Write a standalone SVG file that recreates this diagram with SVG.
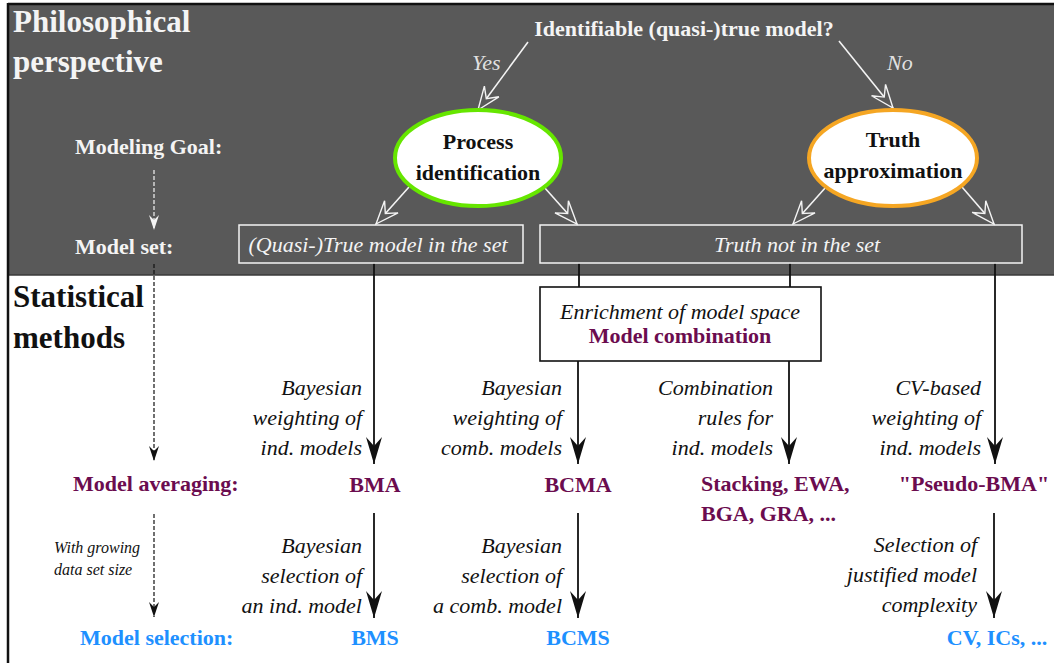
<svg xmlns="http://www.w3.org/2000/svg" width="1054" height="663" viewBox="0 0 1054 663">
<style>
text{font-size:22px}
.b{font-weight:bold}
.i{font-style:italic}
.w{fill:#f4f4f4}
.k{fill:#111}
.p{fill:#6b0c4f}
.bl{fill:#1e90ff}
.m{text-anchor:middle}
.e{text-anchor:end}
.h{font-size:31px}
.s{font-size:16px}
.wl{stroke:#f4f4f4;stroke-width:1.6;fill:none}
.kl{stroke:#111;stroke-width:1.8;fill:none}
.dw{stroke:#f4f4f4;stroke-width:1.2;stroke-dasharray:4 2;fill:none}
.dk{stroke:#111;stroke-width:1.2;stroke-dasharray:4 2;fill:none}
</style>
<defs>
<marker id="ak" markerUnits="userSpaceOnUse" markerWidth="28" markerHeight="18" viewBox="-27 -9 28 18" refX="0" refY="0" orient="auto" overflow="visible">
<path d="M0,0 L-27,-8 L-18,0 L-27,8 Z" fill="#111"/>
</marker>
<marker id="aw" markerUnits="userSpaceOnUse" markerWidth="26" markerHeight="20" viewBox="-24 -10 26 20" refX="0" refY="0" orient="auto" overflow="visible">
<path d="M0,0 L-23,-9 L-14,0 L-23,9 Z" fill="#595959" stroke="#f4f4f4" stroke-width="1.4" stroke-linejoin="miter"/>
</marker>
<marker id="dwa" markerUnits="userSpaceOnUse" markerWidth="16" markerHeight="12" viewBox="-15 -6 16 12" refX="0" refY="0" orient="auto" overflow="visible">
<path d="M0,0 L-15,-5 L-10,0 L-15,5 Z" fill="#f4f4f4"/>
</marker>
<marker id="dka" markerUnits="userSpaceOnUse" markerWidth="16" markerHeight="12" viewBox="-15 -6 16 12" refX="0" refY="0" orient="auto" overflow="visible">
<path d="M0,0 L-15,-5 L-10,0 L-15,5 Z" fill="#111"/>
</marker>
</defs>

<g id="background">
<rect x="0" y="0" width="1054" height="663" fill="#ffffff"/>
<rect x="9" y="5" width="1045" height="270" fill="#595959"/>
<line x1="9" y1="275" x2="1054" y2="275" stroke="#3a3a3a" stroke-width="1.5"/>
<line x1="8" y1="4" x2="1054" y2="4" stroke="#111" stroke-width="2.5"/>
<line x1="8" y1="3" x2="8" y2="663" stroke="#111" stroke-width="2.5"/>
</g>

<g id="connectors">
<line class="wl" x1="528" y1="42" x2="478" y2="110" marker-end="url(#aw)"/>
<line class="wl" x1="839" y1="41" x2="893" y2="108" marker-end="url(#aw)"/>
<line class="wl" x1="409" y1="187" x2="376" y2="224" marker-end="url(#aw)"/>
<line class="wl" x1="544" y1="187" x2="577" y2="224" marker-end="url(#aw)"/>
<line class="wl" x1="826" y1="187" x2="793" y2="224" marker-end="url(#aw)"/>
<line class="wl" x1="962" y1="187" x2="994" y2="224" marker-end="url(#aw)"/>
<line class="dw" x1="154" y1="170" x2="154" y2="230" marker-end="url(#dwa)"/>
<line class="dk" x1="154" y1="264" x2="154" y2="461" marker-end="url(#dka)"/>
<line class="dk" x1="154" y1="514" x2="154" y2="617" marker-end="url(#dka)"/>
<line class="kl" x1="579" y1="263" x2="579" y2="287"/>
<line class="kl" x1="790" y1="263" x2="790" y2="287"/>
<line class="kl" x1="374" y1="263" x2="374" y2="464" marker-end="url(#ak)"/>
<line class="kl" x1="578" y1="361" x2="578" y2="464" marker-end="url(#ak)"/>
<line class="kl" x1="789" y1="361" x2="789" y2="464" marker-end="url(#ak)"/>
<line class="kl" x1="995" y1="263" x2="995" y2="464" marker-end="url(#ak)"/>
<line class="kl" x1="374" y1="513" x2="374" y2="618" marker-end="url(#ak)"/>
<line class="kl" x1="578" y1="513" x2="578" y2="618" marker-end="url(#ak)"/>
<line class="kl" x1="994" y1="513" x2="994" y2="618" marker-end="url(#ak)"/>
</g>

<g id="title-philosophical">
<text font-family="Liberation Serif" class="b w h" x="13" y="32">Philosophical</text>
<text font-family="Liberation Serif" class="b w h" x="13" y="72">perspective</text>
</g>
<g id="title-statistical">
<text font-family="Liberation Serif" class="b k h" x="13" y="307">Statistical</text>
<text font-family="Liberation Serif" class="b k h" x="13" y="348">methods</text>
</g>

<g id="question">
<text font-family="Liberation Serif" class="b w m" x="684" y="36">Identifiable (quasi-)true model?</text>
</g>
<g id="label-yes"><text font-family="Liberation Serif" class="i w" x="472" y="70" fill-opacity="0.9">Yes</text></g>
<g id="label-no"><text font-family="Liberation Serif" class="i w" x="887" y="70" fill-opacity="0.9">No</text></g>

<g id="label-modeling-goal"><text font-family="Liberation Serif" class="b w" x="75" y="154">Modeling Goal:</text></g>
<g id="label-model-set"><text font-family="Liberation Serif" class="b w" x="75" y="254">Model set:</text></g>

<g id="node-process">
<ellipse cx="478" cy="158" rx="83" ry="48" fill="#ffffff" stroke="#66e600" stroke-width="4"/>
<text font-family="Liberation Serif" class="b k m" x="478" y="149">Process</text>
<text font-family="Liberation Serif" class="b k m" x="478" y="180">identification</text>
</g>
<g id="node-truth">
<ellipse cx="893" cy="158" rx="84" ry="48" fill="#ffffff" stroke="#f5a623" stroke-width="4"/>
<text font-family="Liberation Serif" class="b k m" x="893" y="147">Truth</text>
<text font-family="Liberation Serif" class="b k m" x="893" y="178">approximation</text>
</g>

<g id="box-true-model">
<rect x="239" y="225" width="284" height="38" fill="none" stroke="#f4f4f4" stroke-width="1.5"/>
<text font-family="Liberation Serif" class="i w m" x="378" y="252">(Quasi-)True model in the set</text>
</g>
<g id="box-truth-not">
<rect x="540" y="225" width="482" height="38" fill="none" stroke="#f4f4f4" stroke-width="1.5"/>
<text font-family="Liberation Serif" class="i w m" x="797" y="252">Truth not in the set</text>
</g>

<g id="box-enrichment">
<rect x="540" y="287" width="281" height="74" fill="#ffffff" stroke="#111" stroke-width="1.6"/>
<text font-family="Liberation Serif" class="i k m" x="680" y="319">Enrichment of model space</text>
<text font-family="Liberation Serif" class="b p m" x="680" y="343">Model combination</text>
</g>

<g id="label-model-averaging"><text font-family="Liberation Serif" class="b p" x="73" y="491">Model averaging:</text></g>
<g id="label-growing">
<text font-family="Liberation Serif" class="i k s" x="54" y="553">With growing</text>
<text font-family="Liberation Serif" class="i k s" x="54" y="575">data set size</text>
</g>
<g id="label-model-selection"><text font-family="Liberation Serif" class="b bl" x="80" y="645">Model selection:</text></g>

<g id="desc-bma">
<text font-family="Liberation Serif" class="i k e" x="362" y="395">Bayesian</text>
<text font-family="Liberation Serif" class="i k e" x="362" y="425">weighting of</text>
<text font-family="Liberation Serif" class="i k e" x="362" y="455">ind. models</text>
</g>
<g id="node-bma"><text font-family="Liberation Serif" class="b p m" x="375" y="492">BMA</text></g>
<g id="desc-bms">
<text font-family="Liberation Serif" class="i k e" x="362" y="553">Bayesian</text>
<text font-family="Liberation Serif" class="i k e" x="362" y="583">selection of</text>
<text font-family="Liberation Serif" class="i k e" x="362" y="613">an ind. model</text>
</g>
<g id="node-bms"><text font-family="Liberation Serif" class="b bl m" x="375" y="645">BMS</text></g>

<g id="desc-bcma">
<text font-family="Liberation Serif" class="i k e" x="562" y="395">Bayesian</text>
<text font-family="Liberation Serif" class="i k e" x="562" y="425">weighting of</text>
<text font-family="Liberation Serif" class="i k e" x="562" y="455">comb. models</text>
</g>
<g id="node-bcma"><text font-family="Liberation Serif" class="b p m" x="578" y="492">BCMA</text></g>
<g id="desc-bcms">
<text font-family="Liberation Serif" class="i k e" x="562" y="553">Bayesian</text>
<text font-family="Liberation Serif" class="i k e" x="562" y="583">selection of</text>
<text font-family="Liberation Serif" class="i k e" x="562" y="613">a comb. model</text>
</g>
<g id="node-bcms"><text font-family="Liberation Serif" class="b bl m" x="578" y="645">BCMS</text></g>

<g id="desc-combination">
<text font-family="Liberation Serif" class="i k e" x="773" y="395">Combination</text>
<text font-family="Liberation Serif" class="i k e" x="773" y="425">rules for</text>
<text font-family="Liberation Serif" class="i k e" x="773" y="455">ind. models</text>
</g>
<g id="node-stacking">
<text font-family="Liberation Serif" class="b p" x="701" y="491">Stacking, EWA,</text>
<text font-family="Liberation Serif" class="b p" x="701" y="521">BGA, GRA, ...</text>
</g>

<g id="desc-cv">
<text font-family="Liberation Serif" class="i k e" x="981" y="395">CV-based</text>
<text font-family="Liberation Serif" class="i k e" x="981" y="425">weighting of</text>
<text font-family="Liberation Serif" class="i k e" x="981" y="455">ind. models</text>
</g>
<g id="node-pseudo-bma"><text font-family="Liberation Serif" class="b p m" x="974" y="491">"Pseudo-BMA"</text></g>
<g id="desc-complexity">
<text font-family="Liberation Serif" class="i k e" x="977" y="552">Selection of</text>
<text font-family="Liberation Serif" class="i k e" x="977" y="582">justified model</text>
<text font-family="Liberation Serif" class="i k e" x="977" y="612">complexity</text>
</g>
<g id="node-cv"><text font-family="Liberation Serif" class="b bl m" x="997" y="645">CV, ICs, ...</text></g>
</svg>
